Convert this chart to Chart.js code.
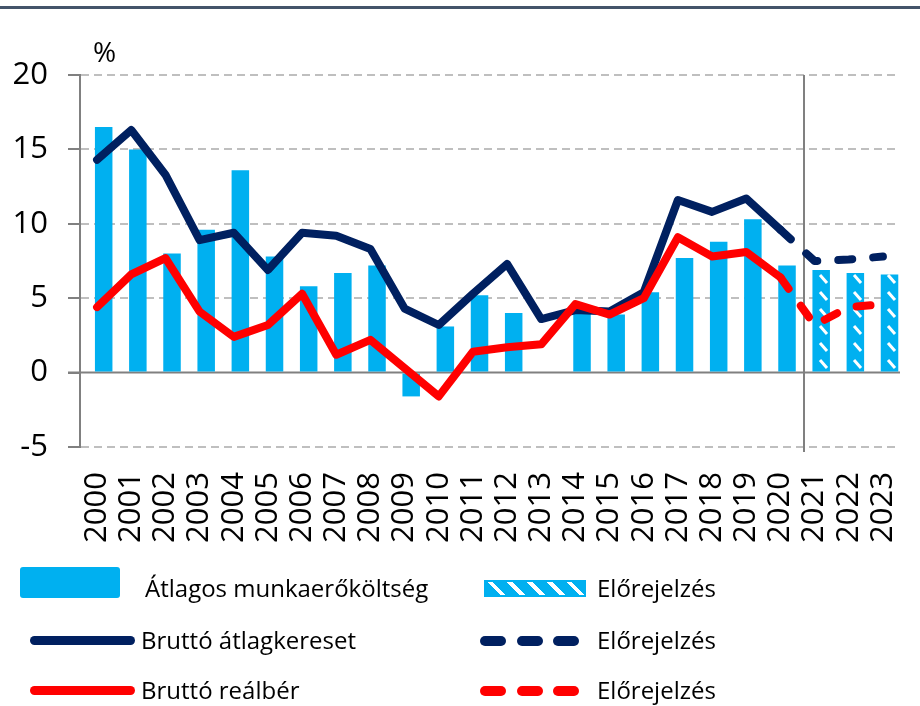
<!DOCTYPE html>
<html>
<head>
<meta charset="utf-8">
<script src="https://cdn.jsdelivr.net/npm/chart.js@4/dist/chart.umd.min.js"></script>
<style>
body{margin:0;background:#fff;}
#wrap{position:relative;width:920px;height:706px;font-family:"Open Sans",sans-serif;overflow:hidden;}
#topline{position:absolute;left:0;top:6px;width:920px;height:3px;background:#44546a;}
#c{position:absolute;left:0;top:0;}
.lg{position:absolute;font-size:24px;line-height:30px;color:#000;white-space:nowrap;}
.sw{position:absolute;}
</style>
</head>
<body>
<div id="wrap">
  <div id="topline"></div>
  <canvas id="c" width="920" height="706"></canvas>
  <!-- jelmagyarazat -->
  <div class="sw" style="left:20px;top:567px;width:100px;height:31px;background:#00b0f0;border-radius:3px;"></div>
  <div class="lg" style="left:145px;top:573px;">Átlagos munkaerőköltség</div>
  <div class="sw" style="left:484px;top:580px;width:102px;height:17px;box-sizing:border-box;border:2px solid #00b0f0;background:repeating-linear-gradient(45deg,#00b0f0 0 10px,#fff 10px 14px);"></div>
  <div class="lg" style="left:597px;top:573px;">Előrejelzés</div>

  <div class="sw" style="left:30px;top:636px;width:105px;height:9px;background:#002060;border-radius:5px;"></div>
  <div class="lg" style="left:141px;top:625px;">Bruttó átlagkereset</div>
  <div class="sw" style="left:480px;top:636px;width:26px;height:10px;background:#002060;border-radius:5px;"></div>
  <div class="sw" style="left:517px;top:636px;width:26px;height:10px;background:#002060;border-radius:5px;"></div>
  <div class="sw" style="left:553px;top:636px;width:26px;height:10px;background:#002060;border-radius:5px;"></div>
  <div class="lg" style="left:597px;top:625px;">Előrejelzés</div>

  <div class="sw" style="left:30px;top:686px;width:105px;height:9px;background:#ff0000;border-radius:5px;"></div>
  <div class="lg" style="left:141px;top:675px;">Bruttó reálbér</div>
  <div class="sw" style="left:480px;top:686px;width:26px;height:10px;background:#ff0000;border-radius:5px;"></div>
  <div class="sw" style="left:517px;top:686px;width:26px;height:10px;background:#ff0000;border-radius:5px;"></div>
  <div class="sw" style="left:553px;top:686px;width:26px;height:10px;background:#ff0000;border-radius:5px;"></div>
  <div class="lg" style="left:597px;top:675px;">Előrejelzés</div>
</div>
<script>
//evek
var years=["2000","2001","2002","2003","2004","2005","2006","2007","2008","2009","2010","2011",
  "2012","2013","2014","2015","2016","2017","2018","2019","2020","2021","2022","2023"];
//atlagos munkaerokoltseg (oszlop)
var laborCost=[16.5,15.0,8.0,9.6,13.6,7.8,5.8,6.7,7.2,-1.6,3.1,5.2,4.0,null,4.1,3.9,5.4,7.7,8.8,10.3,7.2,null,null,null];
var laborCostForecast=[null,null,null,null,null,null,null,null,null,null,null,null,null,null,null,null,null,null,null,null,null,6.9,6.7,6.6];
//brutto atlagkereset
var grossWage=[14.3,16.3,13.3,8.9,9.4,6.9,9.4,9.2,8.3,4.3,3.2,5.3,7.3,3.6,4.2,4.1,5.4,11.6,10.8,11.7,9.6,null,null,null];
var grossWageForecast=[null,null,null,null,null,null,null,null,null,null,null,null,null,null,null,null,null,null,null,null,9.6,7.5,7.6,7.8];
//brutto realber
var realWage=[4.4,6.6,7.7,4.1,2.4,3.2,5.3,1.2,2.2,0.3,-1.6,1.4,1.7,1.9,4.6,3.9,5.0,9.1,7.8,8.1,6.4,null,null,null];
var realWageForecast=[null,null,null,null,null,null,null,null,null,null,null,null,null,null,null,null,null,null,null,null,6.4,3.2,4.4,4.6];
//y tengely
var yMin=-5, yMax=20, yStep=5;

var barColor="#00b0f0";
var navy="#002060";
var red="#ff0000";
var axisGray="#808080";

//csikos minta az elorejelzeshez
var makeHatch=function(){
	var p=document.createElement("canvas");
	p.width=17;p.height=17;
	var g=p.getContext("2d");
	g.fillStyle=barColor;
	g.fillRect(0,0,17,17);
	g.strokeStyle="#fff";
	g.lineWidth=3;
	g.beginPath();
	g.moveTo(4,3);
	g.lineTo(11,11);
	g.stroke();
	return g.createPattern(p,"repeat");
};

var emptyBars=years.map(function(){return null;});

//nulla vonal, elvalaszto, % felirat
var extras={
	id:"extras",
	beforeDatasetsDraw:function(chart){
		var ctx=chart.ctx, a=chart.chartArea;
		var y0=chart.scales.y.getPixelForValue(0);
		ctx.save();
		ctx.strokeStyle=axisGray;
		ctx.lineWidth=2;
		ctx.beginPath();
		ctx.moveTo(a.left-12,y0);
		ctx.lineTo(a.right,y0);
		ctx.stroke();
		var b1=chart.getDatasetMeta(1).data[20];
		var b2=chart.getDatasetMeta(2).data[21];
		var xs=Math.round((b1.x+b2.x)/2);
		ctx.beginPath();
		ctx.moveTo(xs,a.top);
		ctx.lineTo(xs,a.bottom+5);
		ctx.stroke();
		ctx.restore();
	},
	afterDraw:function(chart){
		var ctx=chart.ctx;
		ctx.save();
		ctx.fillStyle="#000";
		ctx.font="28px 'Open Sans'";
		ctx.textBaseline="alphabetic";
		ctx.fillText("%",93,62);
		ctx.restore();
	}
};

var lineBase={type:"line",fill:false,borderWidth:8,pointRadius:0,pointHoverRadius:0,
	borderCapStyle:"round",borderJoinStyle:"round",tension:0};

var chart=new Chart(document.getElementById("c").getContext("2d"),{
	type:"bar",
	data:{
		labels:years,
		datasets:[
			//ures hely, hogy az oszlopok jobbra tolodjanak
			{label:"",data:emptyBars,stack:"gap",order:3},
			{label:"Átlagos munkaerőköltség",data:laborCost,backgroundColor:barColor,stack:"bar",order:3},
			{label:"Előrejelzés",data:laborCostForecast,backgroundColor:makeHatch(),stack:"bar",order:3},
			Object.assign({},lineBase,{label:"Bruttó átlagkereset",data:grossWage,borderColor:navy,order:2}),
			Object.assign({},lineBase,{label:"Előrejelzés",data:grossWageForecast,borderColor:navy,borderDash:[14,21],order:2}),
			Object.assign({},lineBase,{label:"Bruttó reálbér",data:realWage,borderColor:red,order:1}),
			Object.assign({},lineBase,{label:"Előrejelzés",data:realWageForecast,borderColor:red,borderDash:[14,21],order:1})
		]
	},
	options:{
		responsive:false,
		animation:false,
		categoryPercentage:0.773,
		barPercentage:1.326,
		layout:{padding:{left:0,right:20,top:75,bottom:139}},
		plugins:{legend:{display:false},tooltip:{enabled:false}},
		scales:{
			x:{
				offset:true,
				grid:{display:false,drawTicks:false},
				border:{display:false},
				ticks:{minRotation:90,maxRotation:90,autoSkip:false,padding:25,color:"#000",
					font:{family:"'Open Sans'",size:31}},
				afterFit:function(s){s.height=120;s.paddingLeft=0;s.paddingRight=0;}
			},
			y:{
				stacked:false,
				min:yMin,max:yMax,
				ticks:{stepSize:yStep,padding:20,color:"#000",font:{family:"'Open Sans'",size:31}},
				grid:{
					color:function(c){return c.tick&&c.tick.value===0?"rgba(0,0,0,0)":"#bfbfbf";},
					lineWidth:2,tickLength:12,tickColor:axisGray,tickWidth:2
				},
				border:{color:axisGray,width:2,dash:[8,5]},
				afterFit:function(s){s.width=80;s.paddingTop=0;s.paddingBottom=0;}
			}
		}
	},
	plugins:[extras]
});
</script>
</body>
</html>
